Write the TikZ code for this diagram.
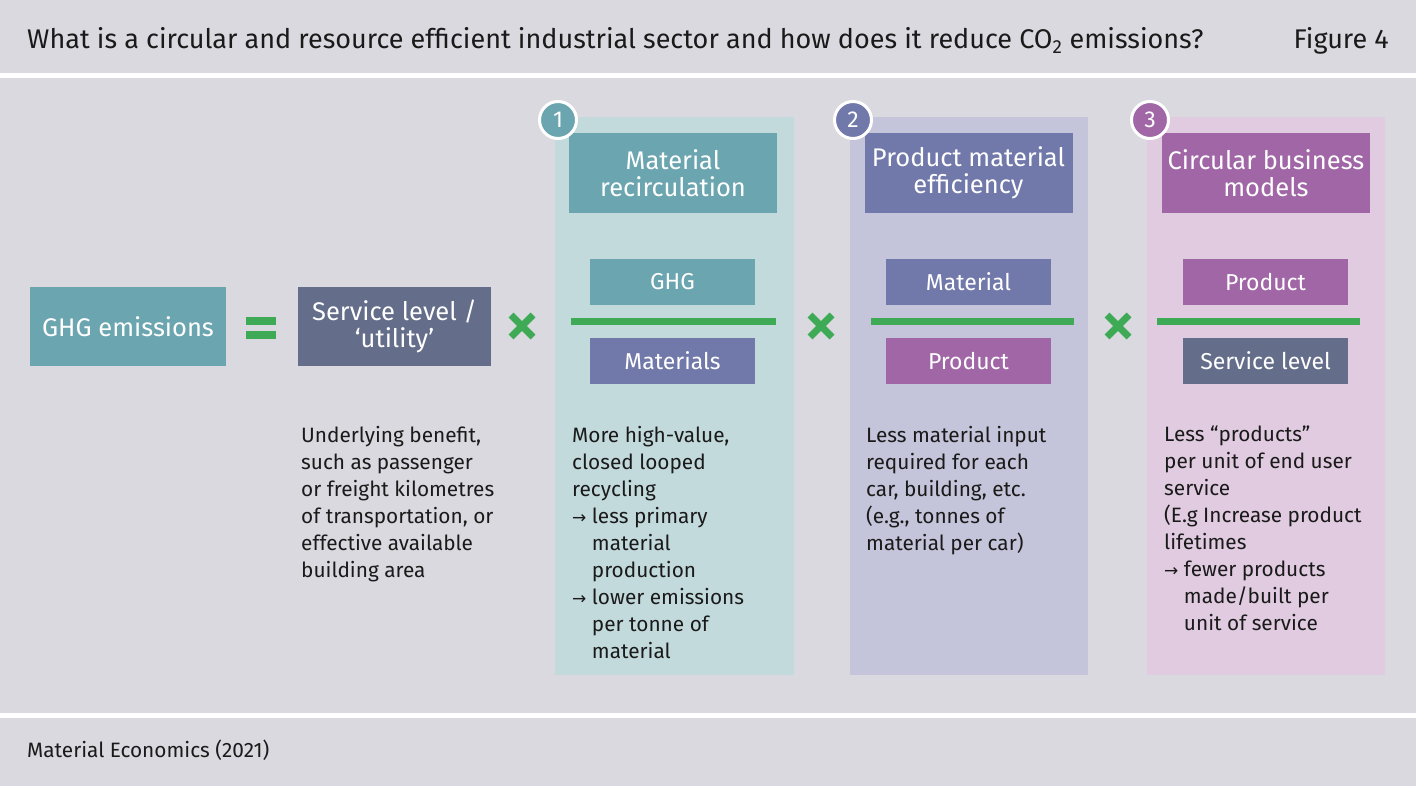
\documentclass[tikz,border=0pt]{standalone}
\usepackage{fontspec}
\usetikzlibrary{calc}
\setmainfont{Fira Sans}
\newfontfamily\arrfont{DejaVu Sans}
\definecolor{bg}{HTML}{DAD9DF}
\definecolor{teal}{HTML}{6BA5AF}
\definecolor{teallt}{HTML}{C3DADD}
\definecolor{lav}{HTML}{7178AA}
\definecolor{lavlt}{HTML}{C4C4DA}
\definecolor{purp}{HTML}{A066A6}
\definecolor{purplt}{HTML}{E0CBE0}
\definecolor{slate}{HTML}{646E8A}
\definecolor{grn}{HTML}{3FAA55}
\definecolor{txt}{HTML}{1A1A1A}
\newcommand{\arr}{{\arrfont\fontsize{17}{17}\selectfont →}}
\newcommand{\hang}{\hphantom{\arr\ }}
\tikzset{
  lbl/.style={text=white, font=\fontsize{25.5}{27}\selectfont, align=center, inner sep=0pt},
  fracbox/.style={lbl, minimum width=165pt, minimum height=46pt, font=\fontsize{23}{25}\selectfont},
  headbox/.style={lbl, minimum width=208pt, minimum height=80pt},
  body/.style={text=txt, font=\fontsize{20.8}{27}\selectfont, align=left, inner sep=0pt, anchor=north west},
  num/.style={circle, draw=white, line width=3pt, minimum size=37pt, inner sep=0pt, text=white, font=\fontsize{23}{23}\selectfont},
  fracline/.style={grn, line width=7pt},
  times/.style={grn, line width=7pt},
}
\begin{document}
\begin{tikzpicture}[x=1pt,y=-1pt]
\useasboundingbox (0,0) rectangle (1416,786);
\fill[bg] (0,0) rectangle (1416,786);
\fill[white] (0,73) rectangle (1416,78);
\fill[white] (0,713) rectangle (1416,718);
% title
\node[text=txt, font=\fontsize{27}{30}\selectfont, anchor=base west, inner sep=0pt] (title) at (27,49) {What is a circular and resource efficient industrial sector and how does it reduce CO\textsubscript{2} emissions?};
\node[text=txt, font=\fontsize{27}{30}\selectfont, anchor=base east, inner sep=0pt] (fig) at (1389,49) {Figure 4};
\node[text=txt, font=\fontsize{20.8}{24}\selectfont, anchor=base west, inner sep=0pt] (src) at (27,757) {Material Economics (2021)};
% panels
\fill[teallt] (555,117) rectangle (794,675);
\fill[lavlt] (850,117) rectangle (1088,675);
\fill[purplt] (1147,117) rectangle (1385,675);
% headers
\node[headbox, fill=teal] (h1) at (673,173) {Material\\recirculation};
\node[headbox, fill=lav] (h2) at (968.5,173) {Product material\\efficiency};
\node[headbox, fill=purp] (h3) at (1266,173) {Circular business\\models};
\node[num, fill=teal] (n1) at (558,120) {1};
\node[num, fill=lav] (n2) at (853,120) {2};
\node[num, fill=purp] (n3) at (1150,120) {3};
% left terms
\node[lbl, fill=teal, minimum width=196pt, minimum height=78pt] (ghg) at (128,326.5) {GHG emissions};
\node[lbl, fill=slate, minimum width=193pt, minimum height=79pt] (svc) at (394.5,326.5) {Service level /\\‘utility’};
\fill[grn] (246,317) rectangle (276,325);
\fill[grn] (246,331) rectangle (276,339);
% times signs
\foreach \cx/\nm in {522/x1,821/x2,1118/x3}{
  \coordinate (\nm) at (\cx,326);
  \draw[times] ($(\nm)+(-11,-11)$) -- ($(\nm)+(11,11)$);
  \draw[times] ($(\nm)+(-11,11)$) -- ($(\nm)+(11,-11)$);
}
% fractions
\node[fracbox, fill=teal] (f1t) at (672.5,282) {GHG};
\node[fracbox, fill=lav] (f1b) at (672.5,361) {Materials};
\draw[fracline] (571,321.5) -- (776,321.5);
\node[fracbox, fill=lav] (f2t) at (968.5,282) {Material};
\node[fracbox, fill=purp] (f2b) at (968.5,361) {Product};
\draw[fracline] (871,321.5) -- (1074,321.5);
\node[fracbox, fill=purp] (f3t) at (1265.5,282) {Product};
\node[fracbox, fill=slate] (f3b) at (1265.5,361) {Service level};
\draw[fracline] (1157,321.5) -- (1360,321.5);
% body texts
\node[body] (t0) at (301,426) {Underlying benefit,\\such as passenger\\or freight kilometres\\of transportation, or\\effective available\\building area};
\node[body] (t1) at (572,426) {More high-value,\\closed looped\\recycling\\\arr\ less primary\\\hang material\\\hang production\\\arr\ lower emissions\\\hang per tonne of\\\hang material};
\node[body] (t2) at (866,426) {Less material input\\required for each\\car, building, etc.\\(e.g., tonnes of\\material per car)};
\node[body] (t3) at (1164,426) {Less “products”\\per unit of end user\\service\\(E.g Increase product\\lifetimes\\\arr\ fewer products\\\hang made/built per\\\hang unit of service};
\end{tikzpicture}
\end{document}
